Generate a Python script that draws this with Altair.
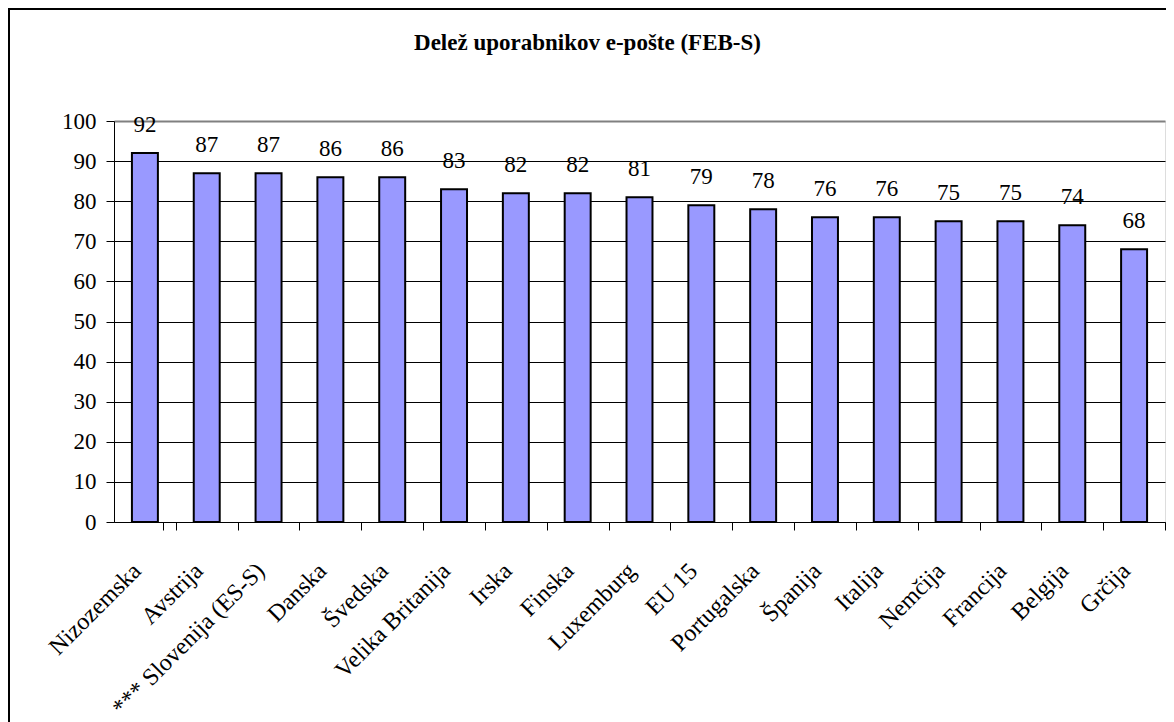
import altair as alt
import pandas as pd

categories = ["Nizozemska", "Avstrija", "*** Slovenija (ES-S)", "Danska", "Švedska",
              "Velika Britanija", "Irska", "Finska", "Luxemburg", "EU 15", "Portugalska",
              "Španija", "Italija", "Nemčija", "Francija", "Belgija", "Grčija"]
values = [92, 87, 87, 86, 86, 83, 82, 82, 81, 79, 78, 76, 76, 75, 75, 74, 68]
y_ticks = [0, 10, 20, 30, 40, 50, 60, 70, 80, 90, 100]
title_text = "Delež uporabnikov e-pošte (FEB-S)"

df = pd.DataFrame({"drzava": categories, "delez": values})

FONT = "Times New Roman, Liberation Serif, serif"
FS = 23
W, H = 1051, 401
STEP = W / len(categories)

x = alt.X(
    "drzava:N", sort=categories, title=None,
    scale=alt.Scale(paddingInner=0.58, paddingOuter=0.29),
    axis=alt.Axis(labelAngle=315, labelAlign="right", labelBaseline="middle",
                  labelFont=FONT, labelFontSize=24, labelColor="black",
                  labelPadding=37, labelOffset=-STEP / 2 - 8, labelLimit=400,
                  tickOffset=STEP / 2, tickExtra=True, tickSize=8, tickColor="black",
                  domainColor="black", grid=False),
)
y = alt.Y(
    "delez:Q", title=None,
    scale=alt.Scale(domain=[0, 100], nice=False),
    axis=alt.Axis(values=y_ticks, labelFont=FONT, labelFontSize=FS, labelColor="black",
                  labelPadding=10, tickSize=8, tickColor="black", domainColor="black",
                  grid=True,
                  gridColor=alt.condition("datum.value == 100", alt.value("#808080"), alt.value("black")),
                  gridWidth=alt.condition("datum.value == 100", alt.value(2), alt.value(1))),
)

base = alt.Chart(df)
bars = base.mark_bar(color="#9999FF", stroke="black", strokeWidth=2).encode(x=x, y=y)
labels = base.mark_text(font=FONT, fontSize=FS, baseline="alphabetic", dy=-21, color="black").encode(
    x=alt.X("drzava:N", sort=categories), y=alt.Y("delez:Q"), text=alt.Text("delez:Q")
)

frame = alt.Chart(alt.Data(values=[{"f": 1}])).mark_rect(
    fill=None, stroke="black", strokeWidth=2
).encode(
    x=alt.value(-105), x2=alt.value(W + 200),
    y=alt.value(-112), y2=alt.value(H + 400),
)

chart = alt.layer(frame, bars, labels).properties(
    width=W, height=H,
    title=alt.TitleParams(title_text, font=FONT, fontSize=23, fontWeight="bold", color="black",
                          anchor="middle", frame="group", dx=-52, baseline="alphabetic", offset=-65),
    autosize=alt.AutoSizeParams(type="none"),
    padding={"left": 106, "top": 113, "right": 1, "bottom": 200},
).configure_view(stroke="#808080", strokeWidth=2).configure(background="white")

chart.save("out.html", embed_options={"renderer": "svg", "actions": False})
